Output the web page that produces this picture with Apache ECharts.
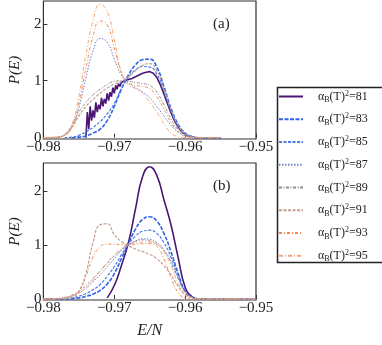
<!DOCTYPE html>
<html>
<head>
<meta charset="utf-8">
<script src="https://cdn.jsdelivr.net/npm/echarts@6/dist/echarts.min.js"></script>
<style>
  html, body { margin: 0; padding: 0; background: #fff; }
  #chart { width: 382px; height: 345px; }
</style>
</head>
<body>
<div id="chart"></div>
<script>
// energy grid E/N (step 0.001)
const energy = [-0.980, -0.979, -0.978, -0.977, -0.976, -0.975, -0.974, -0.973, -0.972, -0.971,
  -0.970, -0.969, -0.968, -0.967, -0.966, -0.965, -0.964, -0.963, -0.962, -0.961,
  -0.960, -0.959, -0.958, -0.957, -0.956, -0.955, -0.954, -0.953, -0.952, -0.951, -0.950];
const xTicks = [-0.98, -0.97, -0.96, -0.95];
const yTicks = [0, 1, 2];
const names = ['81', '83', '85', '87', '89', '91', '93', '95'];

// panel (a)
const a81E = [-0.9740, -0.9738, -0.9736, -0.9734, -0.9732, -0.9730, -0.9728, -0.9726, -0.9724, -0.9722,
  -0.9720, -0.9718, -0.9716, -0.9714, -0.9712, -0.9710, -0.9708, -0.9706, -0.9704, -0.9702,
  -0.9700, -0.9698, -0.9696, -0.9694, -0.9692, -0.9690, -0.9688, -0.9686, -0.9684,
  -0.9680, -0.9675, -0.9670, -0.9665, -0.9660, -0.9655, -0.9650, -0.9645, -0.9640, -0.9635,
  -0.9630, -0.9625, -0.9620, -0.9615, -0.9610, -0.9605, -0.9600, -0.9595, -0.9590, -0.9585, -0.9550];
const a81P = [0.0, 0.45, 0.15, 0.55, 0.3, 0.48, 0.35, 0.62, 0.45, 0.58,
  0.5, 0.7, 0.55, 0.68, 0.6, 0.78, 0.65, 0.8, 0.72, 0.88,
  0.78, 0.92, 0.85, 0.95, 0.9, 0.97, 0.95, 1.0, 1.0,
  1.02, 1.04, 1.07, 1.1, 1.13, 1.15, 1.16, 1.13, 1.06, 0.93,
  0.77, 0.6, 0.44, 0.3, 0.19, 0.11, 0.06, 0.03, 0.01, 0, 0];
const a83 = [null, null, null, null, 0, 0.01, 0.03, 0.08, 0.15, 0.3, 0.55, 0.85, 1.1, 1.28, 1.37, 1.38, 1.24, 0.9, 0.52, 0.24, 0.08, 0.02, 0, 0, 0, 0];
const a85 = [null, null, null, 0, 0.01, 0.04, 0.1, 0.18, 0.28, 0.42, 0.6, 0.86, 1.06, 1.19, 1.25, 1.24, 1.12, 0.82, 0.47, 0.21, 0.07, 0.02, 0, 0, 0, 0];
const a87 = [0, 0, 0.01, 0.04, 0.17, 0.52, 1.05, 1.52, 1.74, 1.68, 1.38, 1.1, 0.96, 0.88, 0.8, 0.7, 0.55, 0.38, 0.22, 0.1, 0.03, 0.005, 0, 0, 0, 0];
const a89 = [0, 0, 0.01, 0.06, 0.22, 0.45, 0.62, 0.75, 0.85, 0.93, 0.99, 1.0, 0.99, 0.97, 0.95, 0.92, 0.8, 0.58, 0.33, 0.14, 0.05, 0.01, 0, 0, 0, 0];
const a91 = [0, 0, 0.01, 0.05, 0.18, 0.38, 0.55, 0.67, 0.78, 0.87, 0.94, 0.99, 1.07, 1.18, 1.27, 1.3, 1.18, 0.86, 0.5, 0.22, 0.07, 0.02, 0, 0, 0, 0];
const a93 = [0, 0.005, 0.01, 0.04, 0.18, 0.6, 1.22, 1.78, 2.05, 1.98, 1.58, 1.15, 0.97, 0.92, 0.9, 0.86, 0.72, 0.5, 0.27, 0.11, 0.03, 0.005, 0, 0, 0, 0];
const a95 = [0, 0.005, 0.01, 0.05, 0.22, 0.72, 1.45, 2.05, 2.34, 2.22, 1.72, 1.15, 0.93, 0.86, 0.78, 0.62, 0.45, 0.25, 0.08, 0.02, 0.005, 0, 0, 0, 0, 0];

// panel (b)
const b81 = [null, null, null, null, null, null, null, null, null, 0.02, 0.25, 0.62, 1.05, 1.68, 2.28, 2.46, 2.3, 1.85, 1.38, 0.78, 0.22, 0.04, 0, 0];
const b83 = [0, 0, 0, 0, 0.005, 0.02, 0.05, 0.09, 0.16, 0.28, 0.47, 0.75, 1.03, 1.3, 1.48, 1.53, 1.45, 1.22, 0.88, 0.48, 0.15, 0.03, 0, 0, 0, 0, 0, 0, 0, 0, 0];
const b85 = [0, 0, 0, 0.005, 0.02, 0.05, 0.1, 0.17, 0.27, 0.42, 0.6, 0.82, 1.02, 1.17, 1.26, 1.28, 1.22, 1.05, 0.78, 0.44, 0.14, 0.03, 0, 0, 0, 0, 0, 0, 0, 0, 0];
const b87 = [0, 0, 0.005, 0.02, 0.05, 0.11, 0.2, 0.32, 0.45, 0.6, 0.75, 0.9, 1.01, 1.08, 1.12, 1.11, 1.05, 0.92, 0.7, 0.4, 0.14, 0.03, 0, 0, 0, 0, 0, 0, 0, 0, 0];
const b89 = [0, 0, 0.01, 0.03, 0.07, 0.14, 0.25, 0.38, 0.52, 0.66, 0.8, 0.92, 1.01, 1.07, 1.1, 1.08, 1.02, 0.9, 0.68, 0.38, 0.13, 0.03, 0, 0, 0, 0, 0, 0, 0, 0, 0];
const b91 = [0, 0, 0.005, 0.01, 0.03, 0.14, 0.48, 1.05, 1.38, 1.4, 1.2, 1.07, 0.99, 0.93, 0.88, 0.83, 0.75, 0.62, 0.45, 0.24, 0.08, 0.02, 0, 0, 0, 0, 0, 0, 0, 0, 0];
const b93 = [0, 0, 0.005, 0.02, 0.06, 0.15, 0.42, 0.78, 0.97, 1.02, 1.02, 1.01, 1.0, 1.02, 1.03, 1.03, 0.98, 0.75, 0.4, 0.12, 0.02, 0, 0, 0, 0, 0, 0, 0, 0, 0, 0];
const b95 = [0, 0, 0.005, 0.02, 0.06, 0.11, 0.2, 0.35, 0.52, 0.68, 0.82, 0.93, 1.0, 1.04, 1.06, 1.06, 1.02, 0.88, 0.62, 0.3, 0.09, 0.02, 0, 0, 0, 0, 0, 0, 0, 0, 0];

const serif = '"Liberation Serif", "DejaVu Serif", serif';
const lineStyles = {
  '81': { color: '#4b1572', width: 1.6, type: 'solid' },
  '83': { color: '#2f62e6', width: 1.6, type: [4, 1.5] },
  '85': { color: '#4d7bea', width: 1.2, type: [3, 1.5] },
  '87': { color: '#6a84c8', width: 1, type: [1.5, 1.5] },
  '89': { color: '#8e8e8e', width: 1, type: [3, 1.5, 1, 1.5] },
  '91': { color: '#c4a08c', width: 1.2, type: [3, 1.5] },
  '93': { color: '#f0874f', width: 1, type: [3, 2, 1, 2] },
  '95': { color: '#f5a47e', width: 1, type: [4, 2, 1, 2] }
};

const pairs = (xs, ys) => ys.map((y, i) => [xs[i], y]).filter(d => d[1] != null);

function makeSeries(name, data, panel, smooth) {
  const st = lineStyles[name];
  return {
    name: name, type: 'line', xAxisIndex: panel, yAxisIndex: panel,
    data: data, smooth: smooth, symbol: 'none',
    lineStyle: { color: st.color, width: st.width, type: st.type },
    itemStyle: { color: st.color },
    animation: false
  };
}

const panelA = { '83': a83, '85': a85, '87': a87, '89': a89, '91': a91, '93': a93, '95': a95 };
const panelB = { '81': b81, '83': b83, '85': b85, '87': b87, '89': b89, '91': b91, '93': b93, '95': b95 };

const series = [makeSeries('81', pairs(a81E, a81P), 0, false)];
names.slice(1).forEach(n => series.push(makeSeries(n, pairs(energy, panelA[n]), 0, true)));
names.forEach(n => series.push(makeSeries(n, pairs(energy, panelB[n]), 1, true)));

const minus = v => (v < 0 ? '\u2212' : '') + Math.abs(v).toFixed(2);

function xAxisFor(idx, withName) {
  return {
    type: 'value', gridIndex: idx, min: -0.98, max: -0.95,
    axisLine: { show: false },
    axisTick: { show: true, inside: true, length: 4, customValues: xTicks, lineStyle: { color: '#333' } },
    axisLabel: { customValues: xTicks, formatter: minus, fontFamily: serif, fontSize: 15, color: '#222', margin: 1 },
    splitLine: { show: false },
    name: withName ? 'E/N' : '', nameLocation: 'middle', nameGap: 23,
    nameTextStyle: { fontFamily: serif, fontStyle: 'italic', fontSize: 16, color: '#222' }
  };
}
function yAxisFor(idx, min, max) {
  return {
    type: 'value', gridIndex: idx, min: min, max: max,
    axisLine: { show: false },
    axisTick: { show: true, inside: true, length: 4, customValues: yTicks, lineStyle: { color: '#333' } },
    axisLabel: { customValues: yTicks, fontFamily: serif, fontSize: 15, color: '#222', margin: 2 },
    splitLine: { show: false },
    name: 'P(E)', nameLocation: 'middle', nameGap: 20,
    nameTextStyle: { fontFamily: serif, fontStyle: 'italic', fontSize: 15, color: '#222' }
  };
}

const chart = echarts.init(document.getElementById('chart'), null, { renderer: 'canvas' });
chart.setOption({
  backgroundColor: '#fff',
  animation: false,
  grid: [
    { left: 31, top: 1, width: 225, height: 138, show: true, borderColor: '#333', borderWidth: 1.2 },
    { left: 31, top: 163, width: 225, height: 137, show: true, borderColor: '#333', borderWidth: 1.2 }
  ],
  xAxis: [xAxisFor(0, false), xAxisFor(1, true)],
  yAxis: [yAxisFor(0, -0.023, 2.40), yAxisFor(1, -0.019, 2.53)],
  legend: {
    data: names, orient: 'vertical', left: 278, top: 89,
    itemWidth: 24, itemHeight: 14, itemGap: 7.75, padding: 0,
    selectedMode: false,
    itemStyle: { opacity: 0 },
    formatter: n => '{m|\u03b1}{s|B}{m|(T)}{p|2}{m|=' + n + '}',
    textStyle: {
      fontFamily: serif, fontSize: 12, color: '#222', padding: [0, 0, 0, 10],
      rich: {
        m: { fontFamily: serif, fontSize: 12, lineHeight: 14, color: '#222' },
        s: { fontFamily: serif, fontSize: 8, lineHeight: 8, padding: [7, 0, 0, 0], color: '#222' },
        p: { fontFamily: serif, fontSize: 8, lineHeight: 8, padding: [0, 0, 6, 0], color: '#222' }
      }
    }
  },
  graphic: [
    { type: 'rect', left: 275, top: 85, shape: { width: 106, height: 175 },
      style: { fill: 'none', stroke: '#222', lineWidth: 1.5 }, z: 100 },
    { type: 'text', left: 213, top: 17, style: { text: '(a)', font: '15px ' + serif, fill: '#222' } },
    { type: 'text', left: 213, top: 179, style: { text: '(b)', font: '15px ' + serif, fill: '#222' } }
  ],
  series: series
});
</script>
</body>
</html>
